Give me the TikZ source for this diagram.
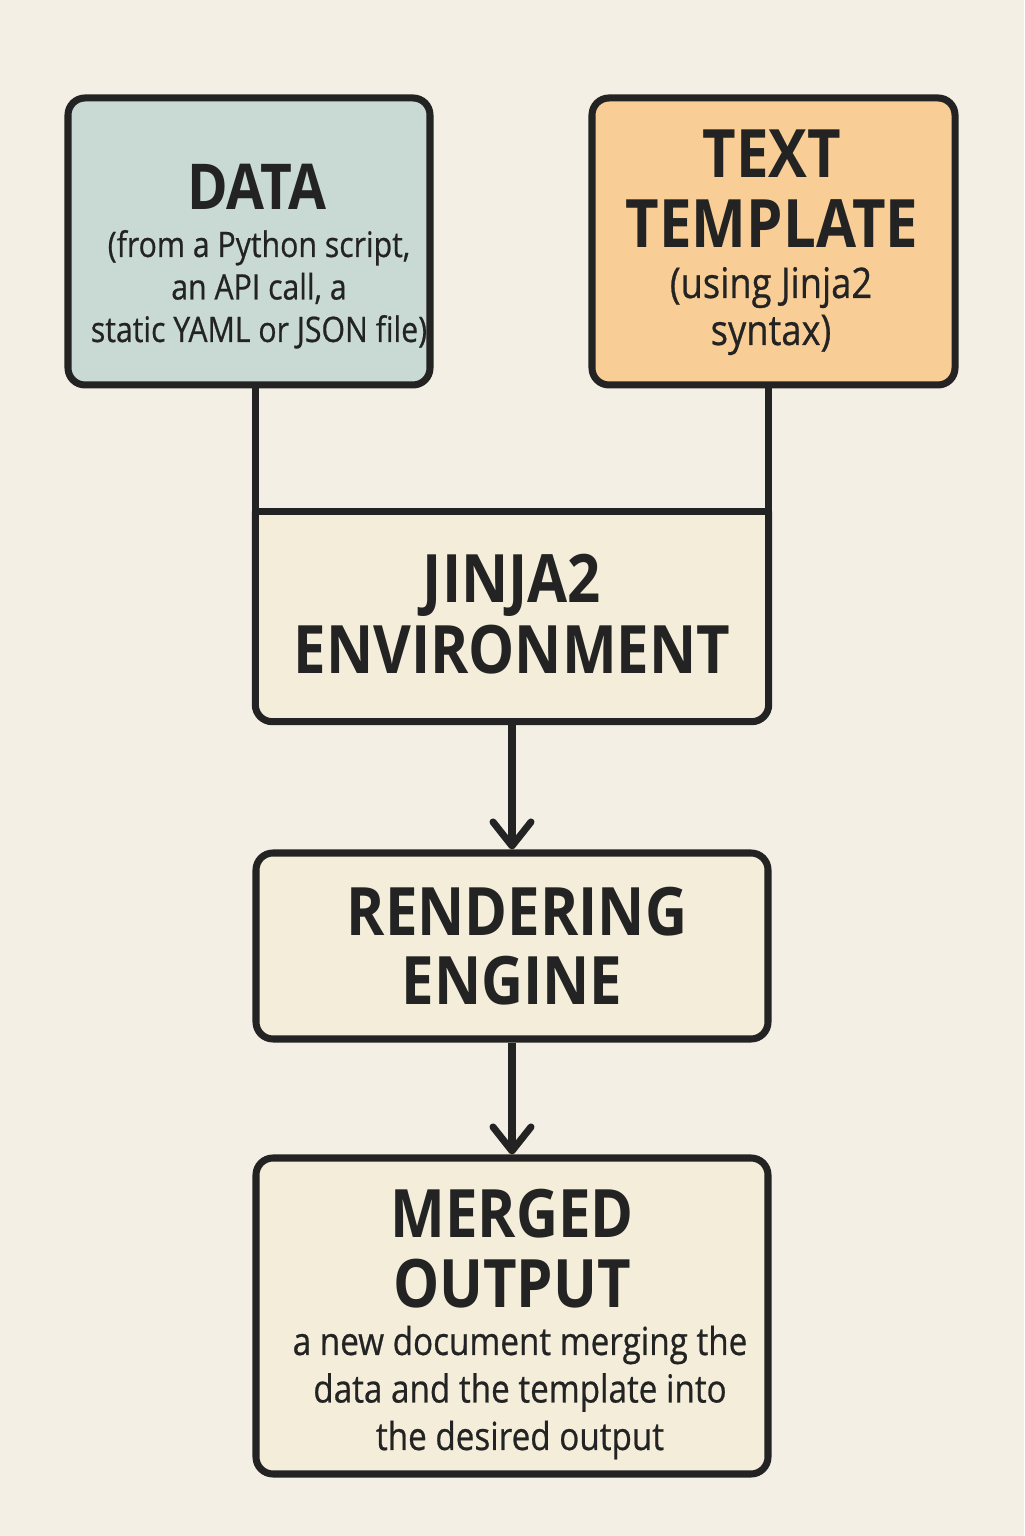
\documentclass[tikz,border=0pt]{standalone}
\usepackage{fontspec}
\setmainfont{Open Sans}[FakeStretch=0.86,BoldFeatures={FakeStretch=0.87}]
\newfontfamily\subfont{Open Sans}[FakeStretch=0.86,FakeBold=0.6]
\usetikzlibrary{arrows.meta}

\definecolor{paper}{HTML}{F4EFE4}
\definecolor{ink}{HTML}{222322}
\definecolor{datafill}{HTML}{C9DAD5}
\definecolor{tmplfill}{HTML}{F8CD96}
\definecolor{cream}{HTML}{F3EDD9}

\begin{document}
\begin{tikzpicture}[
    box/.style={draw=ink,line width=2pt,rounded corners=0.17cm,inner sep=0pt},
    ttl/.style={font=\fontsize{19}{20}\selectfont\bfseries,text=ink,inner sep=0pt,anchor=base},
    sub/.style={font=\subfont\fontsize{11}{13}\selectfont,text=ink,inner sep=0pt,anchor=base},
    link/.style={draw=ink,line width=2pt},
    flow/.style={link,-{Straight Barb[length=2.4mm,width=3.8mm,line cap=round,line join=round]}}
]
    % Page
    \fill[paper] (0,0) rectangle (10.24,15.36);
    \useasboundingbox (0,0) rectangle (10.24,15.36);

    % Inputs
    \node[box,fill=datafill,minimum width=3.62cm,minimum height=2.87cm] (data) at (2.49,12.945) {};
    \node[box,fill=tmplfill,minimum width=3.63cm,minimum height=2.87cm] (tmpl) at (7.735,12.945) {};

    \node[ttl,font=\fontsize{18}{20}\selectfont\bfseries] (datattl) at (2.57,13.26) {DATA};
    \foreach \line [count=\i from 0] in {{(from a Python script,}, {an API call, a}, {static YAML or JSON file)}} {
        \pgfmathsetmacro{\ypos}{12.79 - 0.425*\i}
        \node[sub,font=\subfont\fontsize{10}{12}\selectfont] (datasub\i) at (2.59,\ypos) {\line};
    }

    \node[ttl] (tmplttl0) at (7.72,13.58) {TEXT};
    \node[ttl] (tmplttl1) at (7.72,12.88) {TEMPLATE};
    \node[sub,font=\subfont\fontsize{12}{14}\selectfont] (tmplsub0) at (7.71,12.38) {(using Jinja2};
    \node[sub,font=\subfont\fontsize{12}{14}\selectfont] (tmplsub1) at (7.71,11.91) {syntax)};

    %%%%%%%%%%%%%%%%%%%%%%%%%%%%%%%%%%%%%%%%%%%%%%%%%%%%%%%%%%%%%%%%%%%%%%%%%%%%%%%%%%%%

    % Environment (square top corners)
    \node[inner sep=0pt,minimum width=5.12cm,minimum height=2.09cm] (jinja) at (5.12,9.195) {};
    \filldraw[box,fill=cream] (jinja.north west) -- (jinja.south west) -- (jinja.south east) -- (jinja.north east);
    \draw[link] (data.south -| jinja.north west) -- (jinja.north west);
    \draw[link] (tmpl.south -| jinja.north east) -- (jinja.north east);
    \draw[link,line cap=rect] (jinja.north west) -- (jinja.north east);

    \node[ttl] (jinjattl0) at (5.12,9.33) {JINJA2};
    \node[ttl] (jinjattl1) at (5.12,8.62) {ENVIRONMENT};

    %%%%%%%%%%%%%%%%%%%%%%%%%%%%%%%%%%%%%%%%%%%%%%%%%%%%%%%%%%%%%%%%%%%%%%%%%%%%%%%%%%%%

    % Rendering and output
    \node[box,fill=cream,minimum width=5.12cm,minimum height=1.86cm] (render) at (5.12,5.90) {};
    \node[ttl] (renderttl0) at (5.17,6.00) {RENDERING};
    \node[ttl] (renderttl1) at (5.12,5.31) {ENGINE};

    \node[box,fill=cream,minimum width=5.12cm,minimum height=3.16cm] (merged) at (5.12,2.20) {};
    \node[ttl] (mergedttl0) at (5.12,2.98) {MERGED};
    \node[ttl] (mergedttl1) at (5.12,2.28) {OUTPUT};
    \foreach \line [count=\i from 0] in {a new document merging the, data and the template into, the desired output} {
        \pgfmathsetmacro{\ypos}{1.81 - 0.475*\i}
        \node[sub] (mergedsub\i) at (5.20,\ypos) {\line};
    }

    \draw[flow] (jinja.south) -- (render.north);
    \draw[flow] (render.south) -- (merged.north);
\end{tikzpicture}
\end{document}
